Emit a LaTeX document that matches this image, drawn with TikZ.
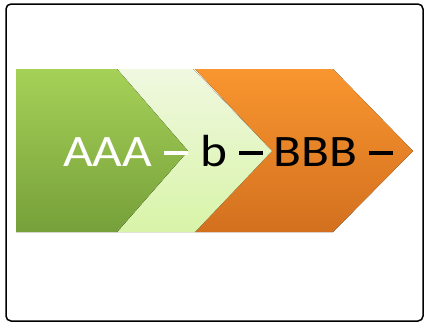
\documentclass[tikz,border=0pt]{standalone}
\usepackage{fontspec}
\setmainfont{Carlito}
\definecolor{greentop}{HTML}{A6D157}
\definecolor{greenbot}{HTML}{76A03A}
\definecolor{palettop}{HTML}{F0F8E0}
\definecolor{palebot}{HTML}{D8F4A8}
\definecolor{orangetop}{HTML}{F9962F}
\definecolor{orangebot}{HTML}{D3701F}
\newcommand{\chaindash}{\rule[0.27em]{0.48em}{0.07em}}
\tikzset{
  greenpart/.style={top color=greentop,bottom color=greenbot},
  palepart/.style={top color=palettop,bottom color=palebot},
  orangepart/.style={top color=orangetop,bottom color=orangebot},
  chaintext/.style={inner sep=0pt,anchor=base west,xscale=1.14,font=\fontsize{45}{45}\selectfont}
}
\begin{document}
\begin{tikzpicture}[x=1pt,y=-1pt]
		\useasboundingbox (0,0) rectangle (424,322);
		\draw[line width=1.5pt,rounded corners=5pt] (6,4) rectangle (423,321);
		% arrows, back to front
		\fill[orangepart] (195,69) -- (333,69) -- (413,151) -- (333,232) -- (195,232) -- (272,151) -- cycle;
		\fill[palepart] (117,69) -- (193,69) -- (272,151) -- (195,232) -- (117,232) -- (188,151) -- cycle;
		\fill[greenpart] (16,69) -- (117,69) -- (188,151) -- (117,232) -- (16,232) -- cycle;
		\node[chaintext,text=white] (aaa) at (63,166.7){AAA \chaindash};
		\node[chaintext] (b) at (200,166.7){b \chaindash};
		\node[chaintext] (bbb) at (273,166.7){BBB \chaindash};
	\end{tikzpicture}
\end{document}
